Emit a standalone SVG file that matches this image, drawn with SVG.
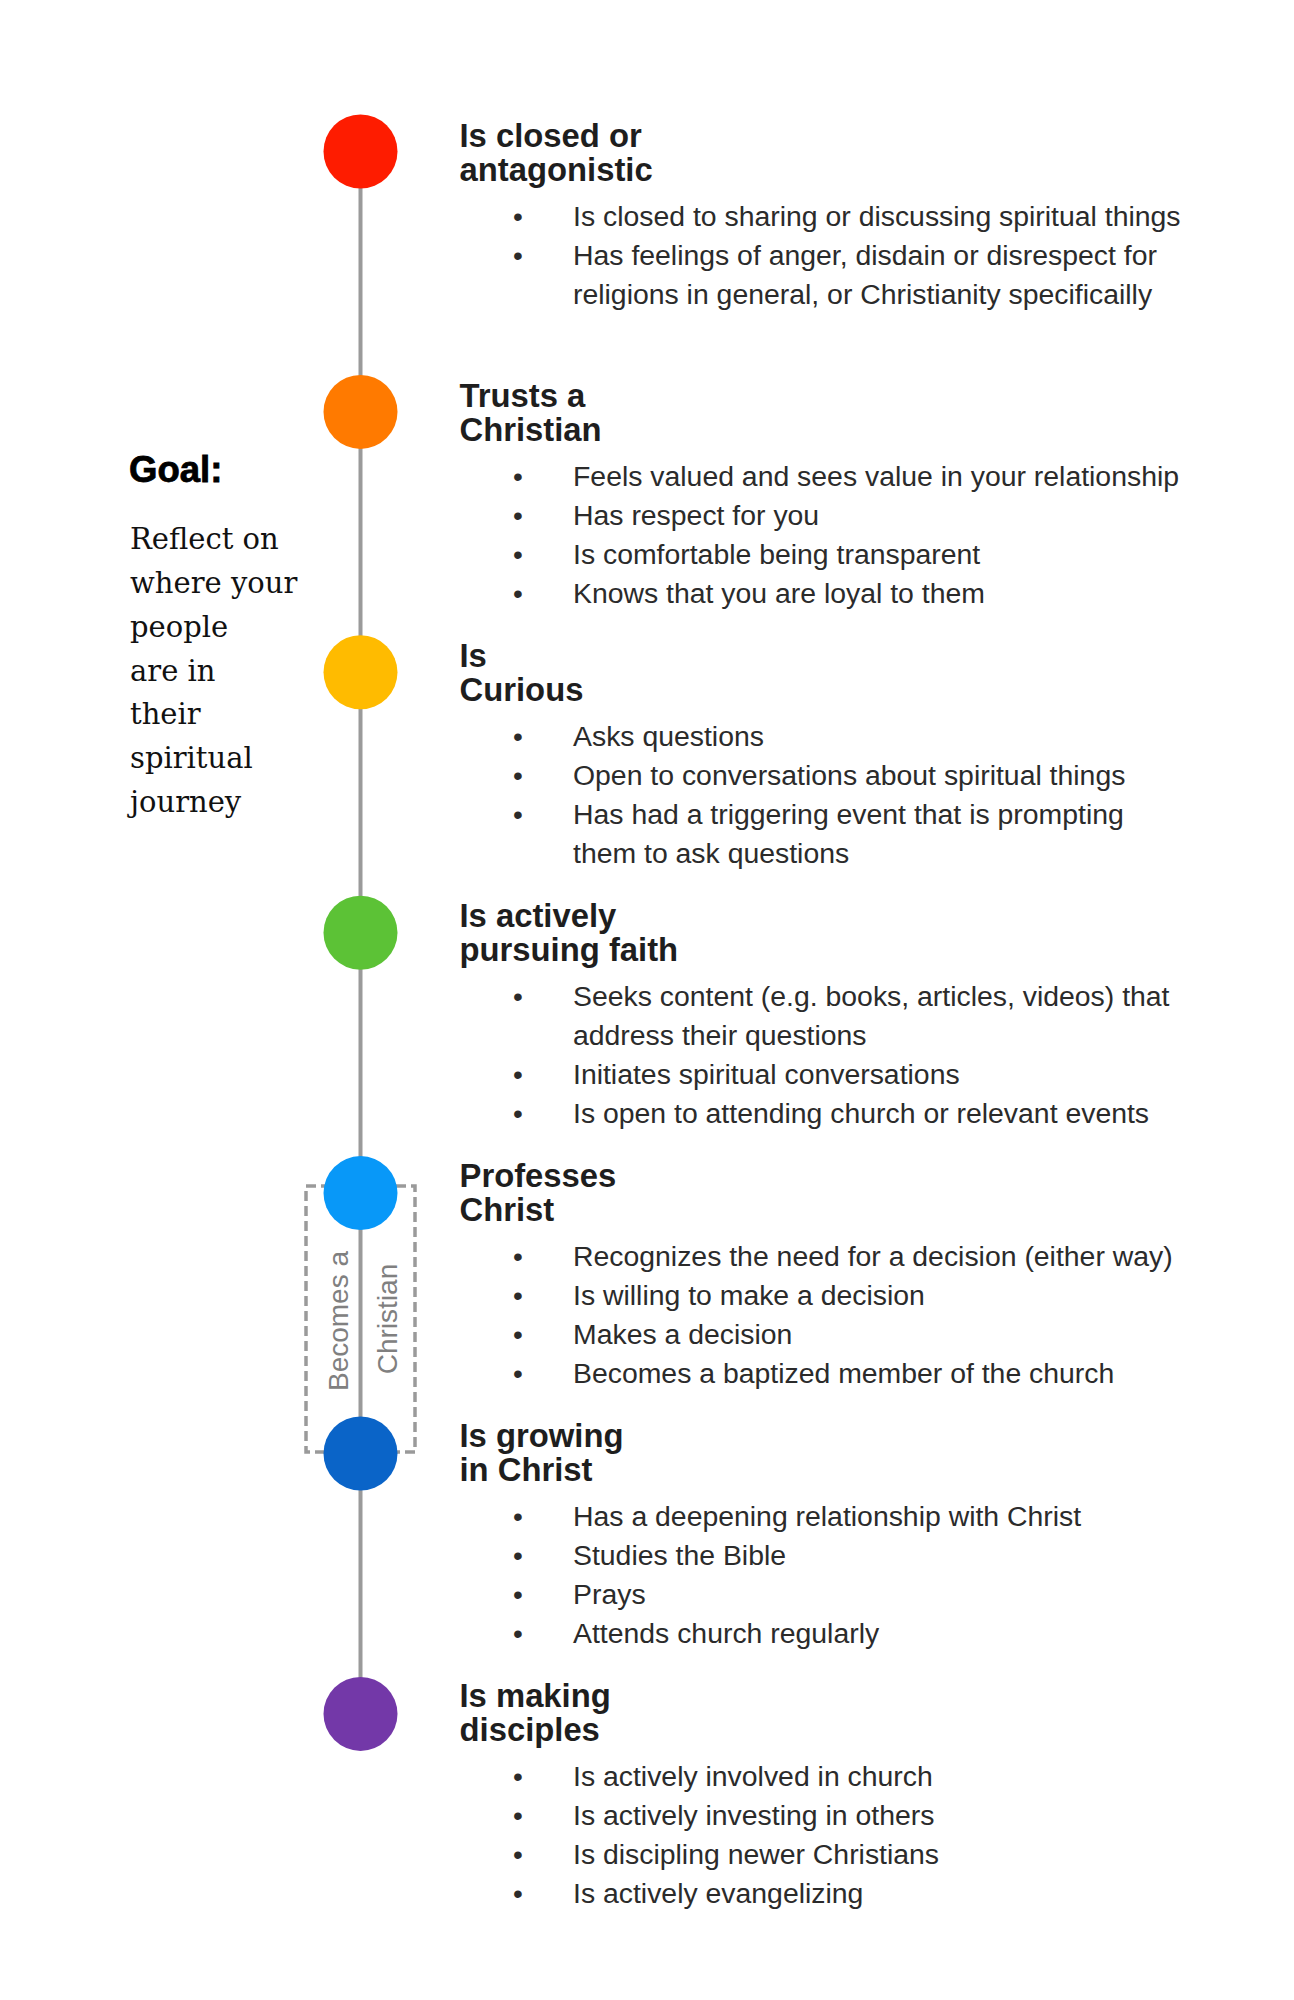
<svg xmlns="http://www.w3.org/2000/svg" width="1294" height="2000" viewBox="0 0 1294 2000">
<style>
.t{font-family:"Liberation Sans",Arial,sans-serif;font-weight:bold;font-size:32.8px;fill:#1e1e1e}
.b{font-family:"Liberation Sans",Arial,sans-serif;font-size:28.4px;fill:#2b2b2b}
.d{font-family:"Liberation Sans",Arial,sans-serif;font-size:28px;fill:#2b2b2b;text-anchor:middle}
.v{font-family:"Liberation Sans",Arial,sans-serif;font-size:28px;fill:#808080;text-anchor:middle}
.g{font-family:"Liberation Sans",Arial,sans-serif;font-weight:bold;font-size:36.5px;fill:#000;stroke:#000;stroke-width:0.8}
.s{font-family:"DejaVu Serif","Liberation Serif",serif;font-size:29px;fill:#111}
.line{stroke:#9a9a9a;stroke-width:4;fill:none}
.dash{stroke:#9a9a9a;stroke-width:3.5;fill:none;stroke-dasharray:10 5}
</style>
<rect width="1294" height="2000" fill="#fff"/>
<g id="connectors">
<line class="line" x1="360.5" y1="151.5" x2="360.5" y2="1714"/>
</g>
<g id="becomes-christian">
<rect class="dash" x="306" y="1186" width="109" height="266"/>
<text class="v" transform="translate(348,1321) rotate(-90)">Becomes a</text>
<text class="v" transform="translate(397,1319) rotate(-90)">Christian</text>
</g>
<g id="goal">
<text class="g" x="129" y="482.3">Goal:</text>
<text class="s" x="130" y="548.8">Reflect on</text>
<text class="s" x="130" y="592.7">where your</text>
<text class="s" x="130" y="636.6">people</text>
<text class="s" x="130" y="680.5">are in</text>
<text class="s" x="130" y="724.4">their</text>
<text class="s" x="130" y="768.3">spiritual</text>
<text class="s" x="130" y="812.2">journey</text>
</g>
<g id="stage-closed">
<circle cx="360.5" cy="151.5" r="37" fill="#fe1c00"/>
<text class="t" x="459.5" y="146.7">Is closed or</text>
<text class="t" x="459.5" y="181">antagonistic</text>
<text class="d" x="518" y="226">•</text><text class="b" x="573" y="226">Is closed to sharing or discussing spiritual things</text>
<text class="d" x="518" y="265.1">•</text><text class="b" x="573" y="265.1">Has feelings of anger, disdain or disrespect for</text>
<text class="b" x="573" y="304.2">religions in general, or Christianity specificailly</text>
</g>
<g id="stage-trusts">
<circle cx="360.5" cy="411.9" r="37" fill="#ff7a00"/>
<text class="t" x="459.5" y="406.7">Trusts a</text>
<text class="t" x="459.5" y="441">Christian</text>
<text class="d" x="518" y="486">•</text><text class="b" x="573" y="486">Feels valued and sees value in your relationship</text>
<text class="d" x="518" y="525.1">•</text><text class="b" x="573" y="525.1">Has respect for you</text>
<text class="d" x="518" y="564.2">•</text><text class="b" x="573" y="564.2">Is comfortable being transparent</text>
<text class="d" x="518" y="603.3">•</text><text class="b" x="573" y="603.3">Knows that you are loyal to them</text>
</g>
<g id="stage-curious">
<circle cx="360.5" cy="672.3" r="37" fill="#ffbb00"/>
<text class="t" x="459.5" y="666.7">Is</text>
<text class="t" x="459.5" y="701">Curious</text>
<text class="d" x="518" y="746">•</text><text class="b" x="573" y="746">Asks questions</text>
<text class="d" x="518" y="785.1">•</text><text class="b" x="573" y="785.1">Open to conversations about spiritual things</text>
<text class="d" x="518" y="824.2">•</text><text class="b" x="573" y="824.2">Has had a triggering event that is prompting</text>
<text class="b" x="573" y="863.3">them to ask questions</text>
</g>
<g id="stage-pursuing">
<circle cx="360.5" cy="932.7" r="37" fill="#5cc236"/>
<text class="t" x="459.5" y="926.7">Is actively</text>
<text class="t" x="459.5" y="961">pursuing faith</text>
<text class="d" x="518" y="1006">•</text><text class="b" x="573" y="1006">Seeks content (e.g. books, articles, videos) that</text>
<text class="b" x="573" y="1045.1">address their questions</text>
<text class="d" x="518" y="1084.2">•</text><text class="b" x="573" y="1084.2">Initiates spiritual conversations</text>
<text class="d" x="518" y="1123.3">•</text><text class="b" x="573" y="1123.3">Is open to attending church or relevant events</text>
</g>
<g id="stage-professes">
<circle cx="360.5" cy="1193.1" r="37" fill="#0898f8"/>
<text class="t" x="459.5" y="1186.7">Professes</text>
<text class="t" x="459.5" y="1221">Christ</text>
<text class="d" x="518" y="1266">•</text><text class="b" x="573" y="1266">Recognizes the need for a decision (either way)</text>
<text class="d" x="518" y="1305.1">•</text><text class="b" x="573" y="1305.1">Is willing to make a decision</text>
<text class="d" x="518" y="1344.2">•</text><text class="b" x="573" y="1344.2">Makes a decision</text>
<text class="d" x="518" y="1383.3">•</text><text class="b" x="573" y="1383.3">Becomes a baptized member of the church</text>
</g>
<g id="stage-growing">
<circle cx="360.5" cy="1453.5" r="37" fill="#0a64c8"/>
<text class="t" x="459.5" y="1446.7">Is growing</text>
<text class="t" x="459.5" y="1481">in Christ</text>
<text class="d" x="518" y="1526">•</text><text class="b" x="573" y="1526">Has a deepening relationship with Christ</text>
<text class="d" x="518" y="1565.1">•</text><text class="b" x="573" y="1565.1">Studies the Bible</text>
<text class="d" x="518" y="1604.2">•</text><text class="b" x="573" y="1604.2">Prays</text>
<text class="d" x="518" y="1643.3">•</text><text class="b" x="573" y="1643.3">Attends church regularly</text>
</g>
<g id="stage-disciples">
<circle cx="360.5" cy="1713.9" r="37" fill="#7338a8"/>
<text class="t" x="459.5" y="1706.7">Is making</text>
<text class="t" x="459.5" y="1741">disciples</text>
<text class="d" x="518" y="1786">•</text><text class="b" x="573" y="1786">Is actively involved in church</text>
<text class="d" x="518" y="1825.1">•</text><text class="b" x="573" y="1825.1">Is actively investing in others</text>
<text class="d" x="518" y="1864.2">•</text><text class="b" x="573" y="1864.2">Is discipling newer Christians</text>
<text class="d" x="518" y="1903.3">•</text><text class="b" x="573" y="1903.3">Is actively evangelizing</text>
</g>
</svg>
